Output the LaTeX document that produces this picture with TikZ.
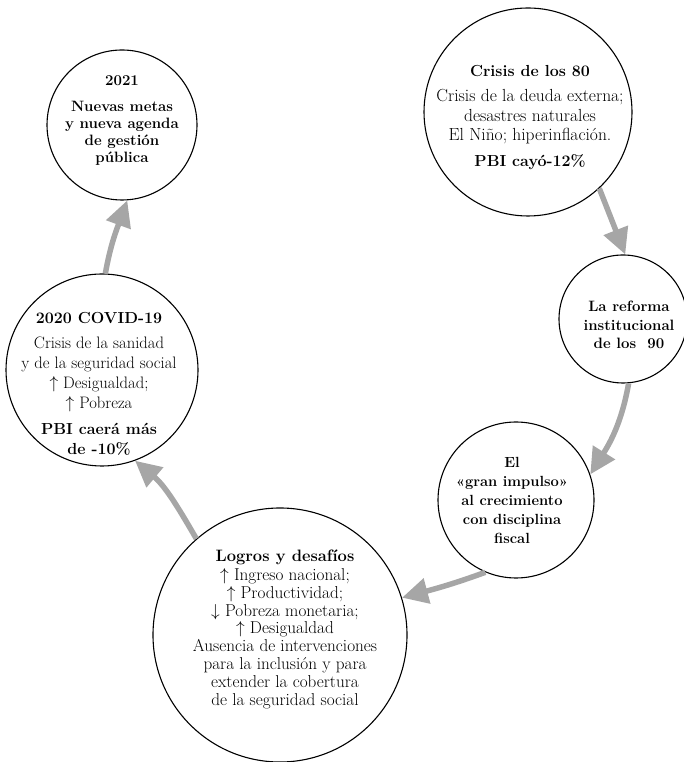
\documentclass[tikz,border=0pt]{standalone}
\usetikzlibrary{arrows.meta}
\definecolor{arrgray}{RGB}{166,166,166}
\begin{document}
\begin{tikzpicture}[x=1pt,y=1pt,
  ring/.style={circle,draw=black,line width=1.1pt,inner sep=0pt},
  arr/.style={draw=arrgray,line width=5.5pt,-{Triangle[length=26pt,width=25pt]}},
  txt/.style={align=center,inner sep=0pt}]
\useasboundingbox (0,0) rectangle (683,762);
% circles
\node[ring,minimum size=208pt] (c80) at (528,650) {};
\node[ring,minimum size=150pt] (y21) at (122,637) {};
\node[ring,minimum size=128pt] (ref) at (623,443) {};
\node[ring,minimum size=156pt] (imp) at (516,262) {};
\node[ring,minimum size=254pt] (log) at (280,127) {};
\node[ring,minimum size=192pt] (cov) at (102,392) {};
% texts
\node[txt,font=\fontsize{17.5}{19.5}\selectfont] (t80) at (530,644)
  {{\bfseries\fontsize{16}{19.5}\selectfont Crisis de los 80}\\[5.5pt]
   Crisis de la deuda externa;\\
   desastres naturales\\
   El Niño; hiperinflación.\\[6.5pt]
   {\bfseries\fontsize{16}{19.5}\selectfont PBI cayó-12\%}};
\node[txt,font=\bfseries\fontsize{15}{17}\selectfont] (t21) at (122,641)
  {2021\\[9pt] Nuevas metas\\ y nueva agenda\\ de gestión\\ pública};
\node[txt,font=\bfseries\fontsize{15}{18.5}\selectfont] (tref) at (629,437)
  {La reforma\\ institucional\\ de los~~90};
\node[txt,font=\bfseries\fontsize{14.7}{19}\selectfont] (timp) at (512,262)
  {El\\ «gran impulso»\\ al crecimiento\\ con disciplina\\ fiscal};
\node[txt,font=\fontsize{17.2}{17.8}\selectfont] (tlog) at (285,133)
  {{\bfseries\fontsize{16.5}{17.8}\selectfont Logros y desafíos}\\[1.5pt]
   $\uparrow$ Ingreso nacional;\\
   $\uparrow$ Productividad;\\
   $\downarrow$ Pobreza monetaria;\\
   $\uparrow$ Desigualdad\\
   Ausencia de intervenciones\\
   para la inclusión y para\\
   extender la cobertura\\
   de la seguridad social};
\node[txt,font=\fontsize{16.6}{20}\selectfont] (tcov) at (99,378)
  {{\bfseries\fontsize{16}{20}\selectfont 2020 COVID-19}\\[5pt]
   Crisis de la sanidad\\
   y de la seguridad social\\
   $\uparrow$ Desigualdad;\\
   $\uparrow$ Pobreza\\[6pt]
   {\bfseries\fontsize{16}{20}\selectfont PBI caerá más}\\
   {\bfseries\fontsize{16}{20}\selectfont de -10\%}};
% arrows
\draw[arr] (c80.-47) -- (ref.88);
\draw[arr] (ref.-85) to[out=-100,in=58] (imp.19);
\draw[arr] (imp.-113) to[out=200,in=15] (log.17);
\draw[arr] (log.131) to[out=120,in=-40] (cov.-70);
\draw[arr] (cov.88) to[out=80,in=-110] (y21.-86);
\end{tikzpicture}
\end{document}
